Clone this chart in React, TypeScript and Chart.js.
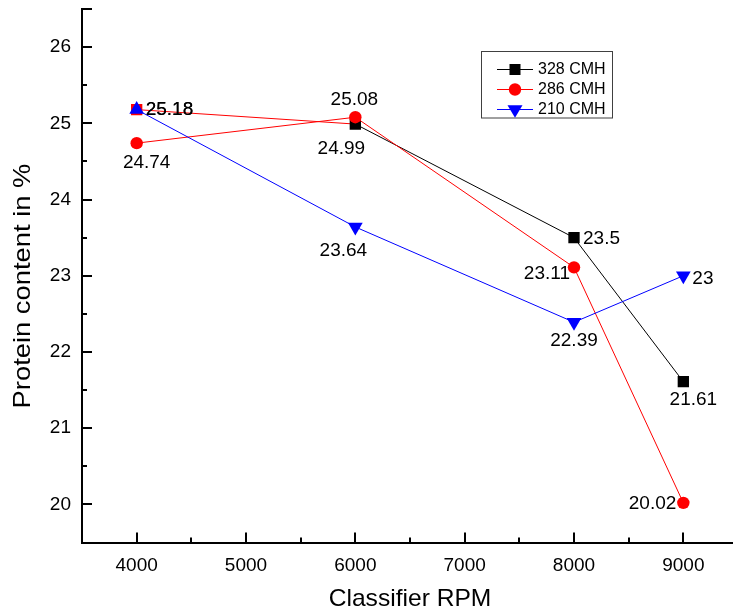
import React, { useEffect, useRef } from 'react';
import { Chart, registerables } from 'chart.js';
Chart.register(...registerables);

// ---- data ----
const rpm = [4000, 6000, 8000, 9000];
const cmh328 = [25.18, 24.99, 23.5, 21.61];
const cmh286 = [24.74, 25.08, 23.11, 20.02];
const cmh210 = [25.18, 23.64, 22.39, 23];
const seriesNames = ['328 CMH', '286 CMH', '210 CMH'];
const xTicks = [4000, 5000, 6000, 7000, 8000, 9000];
const yTicks = [20, 21, 22, 23, 24, 25, 26];
const xTitle = 'Classifier RPM';
const yTitle = 'Protein content in %';

// ---- styling ----
const FONT = '"Liberation Sans", Arial, Helvetica, sans-serif';
const colors = ['#000000', '#ff0000', '#0000ff'];
const shapes = ['rect', 'circle', 'triangleDown'];

type Place = { dx: number; dy: number; align: CanvasTextAlign };
const labelPlacement: Place[][] = [
  [
    { dx: 9, dy: 0, align: 'left' },
    { dx: -14, dy: 25, align: 'center' },
    { dx: 9, dy: 1, align: 'left' },
    { dx: 10, dy: 18, align: 'center' },
  ],
  [
    { dx: 10, dy: 19.5, align: 'center' },
    { dx: -1, dy: -17, align: 'center' },
    { dx: -4, dy: 6, align: 'right' },
    { dx: -7, dy: 1, align: 'right' },
  ],
  [
    { dx: 9, dy: 0, align: 'left' },
    { dx: -12, dy: 24, align: 'center' },
    { dx: 0, dy: 19, align: 'center' },
    { dx: 9, dy: 3, align: 'left' },
  ],
];

function drawMarker(ctx: CanvasRenderingContext2D, shape: string, x: number, y: number, color: string) {
  ctx.save();
  ctx.fillStyle = color;
  ctx.beginPath();
  if (shape === 'rect') {
    ctx.rect(x - 5.5, y - 5.5, 11, 11);
  } else if (shape === 'circle') {
    ctx.arc(x, y, 6.2, 0, Math.PI * 2);
  } else {
    ctx.moveTo(x - 7.5, y - 4.2);
    ctx.lineTo(x + 7.5, y - 4.2);
    ctx.lineTo(x, y + 8.3);
    ctx.closePath();
  }
  ctx.fill();
  ctx.restore();
}

const overlayPlugin = {
  id: 'overlay',
  afterDraw(chart: any) {
    const ctx: CanvasRenderingContext2D = chart.ctx;
    const xs = chart.scales.x;
    const ys = chart.scales.y;
    const area = chart.chartArea;
    ctx.save();
    // inward ticks
    ctx.strokeStyle = '#000';
    ctx.lineWidth = 2;
    const xStep = xTicks[1] - xTicks[0];
    xTicks.forEach((v) => {
      const px = Math.round(xs.getPixelForValue(v));
      ctx.beginPath();
      ctx.moveTo(px, area.bottom);
      ctx.lineTo(px, area.bottom - 10);
      ctx.stroke();
      const mx = Math.round(xs.getPixelForValue(v + xStep / 2));
      ctx.beginPath();
      ctx.moveTo(mx, area.bottom);
      ctx.lineTo(mx, area.bottom - 5);
      ctx.stroke();
    });
    const yStep = yTicks[1] - yTicks[0];
    yTicks.forEach((v) => {
      const py = Math.round(ys.getPixelForValue(v));
      ctx.beginPath();
      ctx.moveTo(area.left, py);
      ctx.lineTo(area.left + 10, py);
      ctx.stroke();
      const my = Math.round(ys.getPixelForValue(v + yStep / 2));
      ctx.beginPath();
      ctx.moveTo(area.left, my);
      ctx.lineTo(area.left + (v === yTicks[yTicks.length - 1] ? 10 : 5), my);
      ctx.stroke();
    });

    // data labels
    ctx.fillStyle = '#000';
    ctx.font = `19px ${FONT}`;
    ctx.textBaseline = 'middle';
    chart.data.datasets.forEach((ds: any, i: number) => {
      const meta = chart.getDatasetMeta(i);
      meta.data.forEach((pt: any, j: number) => {
        const p = labelPlacement[i][j];
        ctx.textAlign = p.align;
        ctx.fillText(String(ds.data[j].y), pt.x + p.dx, pt.y + p.dy);
      });
    });

    // axis titles
    ctx.font = `24px ${FONT}`;
    ctx.textAlign = 'center';
    ctx.textBaseline = 'middle';
    ctx.save();
    ctx.translate((area.left + area.right) / 2, 599);
    ctx.scale(1.025, 1);
    ctx.fillText(xTitle, 0, 0);
    ctx.restore();
    ctx.save();
    ctx.translate(23, 286);
    ctx.rotate(-Math.PI / 2);
    ctx.scale(1.14, 1);
    ctx.fillText(yTitle, 0, 0);
    ctx.restore();

    // legend
    ctx.strokeStyle = '#404040';
    ctx.lineWidth = 1;
    ctx.strokeRect(481.5, 51.5, 131, 66.5);
    ctx.font = `16px ${FONT}`;
    ctx.textAlign = 'left';
    seriesNames.forEach((name, i) => {
      const y = 69 + i * 20;
      ctx.strokeStyle = colors[i];
      ctx.lineWidth = 1;
      ctx.beginPath();
      ctx.moveTo(497, y + 0.5);
      ctx.lineTo(533, y + 0.5);
      ctx.stroke();
      drawMarker(ctx, shapes[i], 515, y + 0.5, colors[i]);
      ctx.fillStyle = '#000';
      ctx.fillText(name, 538, y + 1);
    });
    ctx.restore();
  },
};

export default function App() {
  const ref = useRef<HTMLCanvasElement>(null);
  useEffect(() => {
    if (!ref.current) return;
    const mk = (ys: number[]) => rpm.map((x, i) => ({ x, y: ys[i] }));
    const chart = new Chart(ref.current, {
      type: 'line',
      data: {
        datasets: [
          {
            label: seriesNames[0],
            data: mk(cmh328),
            borderColor: colors[0],
            borderWidth: 1,
            pointStyle: 'rect',
            pointRadius: 8,
            pointBackgroundColor: [colors[1], colors[0], colors[0], colors[0]],
            pointBorderWidth: 0,
            segment: {
              borderColor: (c: any) => (c.p0DataIndex === 0 ? colors[1] : colors[0]),
            },
            order: 3,
          },
          {
            label: seriesNames[1],
            data: mk(cmh286),
            borderColor: colors[1],
            borderWidth: 1,
            pointStyle: 'circle',
            pointRadius: 6.2,
            pointBackgroundColor: colors[1],
            pointBorderWidth: 0,
            order: 2,
          },
          {
            label: seriesNames[2],
            data: mk(cmh210),
            borderColor: colors[2],
            borderWidth: 1,
            pointStyle: 'triangle',
            pointRadius: 8.5,
            pointRotation: [0, 180, 180, 180],
            pointBackgroundColor: colors[2],
            pointBorderWidth: 0,
            order: 1,
          },
        ],
      },
      options: {
        animation: false,
        responsive: false,
        parsing: false as any,
        layout: { autoPadding: false, padding: { top: 9, right: 1, left: 0, bottom: 0 } },
        plugins: { legend: { display: false }, tooltip: { enabled: false } },
        scales: {
          x: {
            type: 'linear',
            min: 3500,
            max: 9500,
            afterBuildTicks: (s: any) => {
              s.ticks = xTicks.map((v) => ({ value: v }));
            },
            afterFit: (s: any) => {
              s.height = 72.5;
              s.paddingLeft = 0;
              s.paddingRight = 0;
              s.paddingTop = 0;
              s.paddingBottom = 0;
            },
            grid: { display: true, drawOnChartArea: false, drawTicks: false },
            border: { display: true, color: '#000', width: 2 },
            ticks: {
              color: '#000',
              font: { family: FONT, size: 19 },
              padding: 12,
              maxRotation: 0,
              callback: (v: any) => String(v),
            },
          },
          y: {
            type: 'linear',
            min: 19.5,
            max: 26.5,
            afterBuildTicks: (s: any) => {
              s.ticks = yTicks.map((v) => ({ value: v }));
            },
            afterFit: (s: any) => {
              s.width = 82;
              s.paddingLeft = 0;
              s.paddingRight = 0;
              s.paddingTop = 0;
              s.paddingBottom = 0;
            },
            grid: { display: true, drawOnChartArea: false, drawTicks: false },
            border: { display: true, color: '#000', width: 2 },
            ticks: {
              color: '#000',
              font: { family: FONT, size: 19 },
              padding: 11,
              callback: (v: any) => String(v),
            },
          },
        },
      },
      plugins: [overlayPlugin],
    });
    return () => chart.destroy();
  }, []);
  return (
    <div style={{ position: 'absolute', left: 0, top: 0, width: 733, height: 615, overflow: 'hidden', background: '#fff' }}>
      <canvas ref={ref} width={739} height={615} style={{ display: 'block', width: 739, height: 615 }} />
    </div>
  );
}
